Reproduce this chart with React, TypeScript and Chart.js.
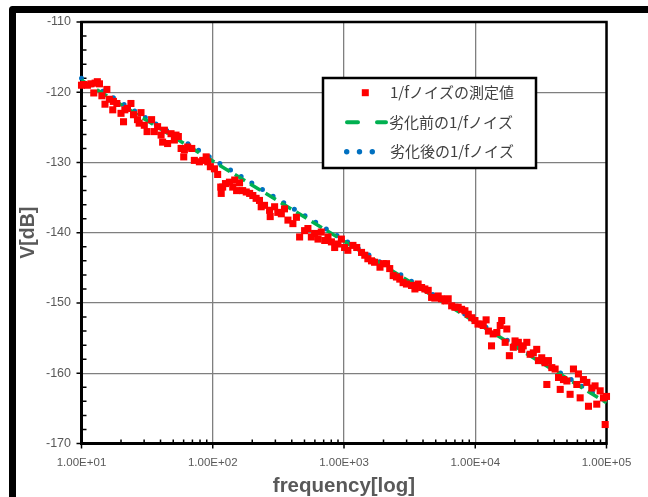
import React, { useEffect, useRef } from "react";
import { Chart, registerables } from "chart.js";

Chart.register(...registerables);

// ---- data ----
const measured: [number, number][] = [
  [10, -119.0], [10.4, -118.9], [11.1, -119.0], [11.8, -118.8], [12.7, -118.7],
  [13.2, -118.5], [13.7, -118.8], [12.4, -120.1], [14.3, -120.5], [15.6, -119.6],
  [16.3, -121.0], [15.1, -121.7], [17.5, -121.3], [18.6, -121.6], [17.3, -122.5],
  [20.0, -123.0], [21.4, -122.5], [23.8, -121.6], [22.4, -122.3], [20.9, -124.2],
  [24.9, -123.2], [26.7, -123.9], [28.4, -122.9], [27.5, -124.4], [30.1, -124.7],
  [34.2, -123.9], [31.6, -125.6], [35.9, -125.6], [38.0, -124.9], [40.4, -126.1],
  [42.8, -125.4], [41.5, -127.1], [45.3, -127.3], [48.1, -125.9], [52.5, -126.1],
  [51.0, -126.8], [54.7, -126.3], [57.4, -128.0], [60.8, -128.2], [64.4, -127.8],
  [69.2, -128.0], [60.1, -129.2], [72.4, -129.7], [79.1, -129.9], [83.9, -129.7],
  [89.1, -129.2], [95.9, -130.6], [91.6, -129.9], [103, -130.9], [109, -131.7],
  [115, -133.5],
  [116, -134.4], [119, -133.5], [125, -133.0], [134, -132.8], [142, -133.5],
  [147, -132.5], [152, -134.0], [160, -132.9], [169, -134.0], [180, -134.2],
  [191, -134.4], [202, -134.7], [214, -135.1], [227, -135.4], [234, -136.3],
  [248, -136.1], [271, -136.8], [274, -137.7], [296, -136.3], [313, -137.1],
  [333, -137.3], [352, -136.6], [374, -138.2], [408, -138.7], [434, -137.8],
  [459, -140.6], [501, -139.7], [531, -139.4], [564, -140.6], [597, -140.1],
  [634, -140.9], [671, -139.9], [713, -141.1], [755, -140.6], [802, -141.3],
  [849, -142.1], [899, -141.6], [955, -140.9], [1010, -142.1], [1070, -142.5],
  [1170, -141.8], [1250, -142.1], [1360, -142.8], [1440, -143.2], [1520, -143.7],
  [1620, -144.0], [1710, -144.2], [1880, -144.9], [1990, -144.4], [2110, -144.4],
  [2230, -145.1], [2370, -146.1], [2510, -146.3], [2660, -146.6], [2820, -147.1],
  [2990, -147.3], [3270, -147.5], [3470, -148.0], [3670, -147.3], [3900, -147.8],
  [4130, -148.0], [4380, -148.2], [4650, -149.2], [4920, -149.3], [5220, -149.0],
  [5530, -149.4], [5880, -149.7], [6220, -149.4], [6610, -150.4], [7000, -150.6],
  [7410, -150.6], [7870, -150.9], [8340, -151.1], [8850, -151.6], [9400, -152.1],
  [9950, -152.5], [10500, -153.0],
  [11200, -153.0], [12100, -152.4], [11500, -153.2], [12600, -154.0], [13700, -154.4],
  [13300, -156.1], [14600, -154.2], [15500, -153.2], [15900, -152.5], [16900, -155.6],
  [17400, -153.7], [18200, -157.5], [19500, -156.3], [20100, -155.4], [21300, -155.6],
  [22600, -156.6], [23200, -156.1], [24700, -155.6], [26200, -157.3], [27700, -157.1],
  [29400, -156.6], [30300, -158.2], [32100, -157.8], [34000, -158.5], [36100, -158.2],
  [38300, -159.2], [35100, -161.6], [40600, -159.4], [43100, -160.6], [44400, -162.3],
  [47000, -160.9], [49900, -161.1], [52800, -163.0], [56000, -159.4], [59400, -161.6],
  [61100, -160.1], [63000, -163.5], [66700, -160.9], [70800, -161.3], [72900, -164.7],
  [77300, -162.1], [81800, -161.8], [84300, -164.4], [89500, -162.5], [94800, -163.5],
  [100000, -163.3], [97700, -167.3],
];

const curveFreq = [10, 100, 1000, 10000, 100000];
const beforeDb = [-118.3, -129.8, -141.2, -152.7, -164.2];
const afterDb = [-118.0, -129.5, -141.0, -152.5, -164.0];

const xTickValues = [10, 100, 1000, 10000, 100000];
const xTickLabels = ["1.00E+01", "1.00E+02", "1.00E+03", "1.00E+04", "1.00E+05"];
const yTickValues = [-110, -120, -130, -140, -150, -160, -170];

const legendLabels = ["1/fノイズの測定値", "劣化前の1/fノイズ", "劣化後の1/fノイズ"];
const xTitle = "frequency[log]";
const yTitle = "V[dB]";

const RED = "#FF0000";
const GREEN = "#00B050";
const BLUE = "#0070C0";
const GRAY_TEXT = "#595959";
const GRID = "#7f7f7f";

const decorPlugin = {
  id: "decor",
  beforeDraw(chart: any) {
    const ctx = chart.ctx as CanvasRenderingContext2D;
    ctx.save();
    ctx.fillStyle = "#fff";
    ctx.fillRect(0, 0, chart.width, chart.height);
    // outer chart frame (continues beyond the view)
    ctx.strokeStyle = "#000";
    ctx.lineWidth = 7;
    ctx.lineJoin = "round";
    ctx.beginPath();
    ctx.moveTo(12.5, 700);
    ctx.lineTo(12.5, 9.5);
    ctx.lineTo(900, 9.5);
    ctx.stroke();
    ctx.restore();
  },
  beforeDatasetsDraw(chart: any) {
    const ctx = chart.ctx as CanvasRenderingContext2D;
    const a = chart.chartArea;
    const x = chart.scales.x;
    const y = chart.scales.y;
    ctx.save();
    ctx.strokeStyle = "#000";
    ctx.lineWidth = 2.5;
    ctx.strokeRect(a.left, a.top, a.right - a.left, a.bottom - a.top);
    ctx.lineWidth = 1.5;
    ctx.beginPath();
    for (const d of xTickValues) {
      const px = x.getPixelForValue(d);
      ctx.moveTo(px, a.bottom);
      ctx.lineTo(px, a.bottom + 5);
      if (d >= 100000) continue;
      for (let m = 2; m <= 9; m++) {
        const mx = x.getPixelForValue(d * m);
        ctx.moveTo(mx, a.bottom);
        ctx.lineTo(mx, a.bottom - 4);
      }
    }
    for (const v of yTickValues) {
      const py = y.getPixelForValue(v);
      ctx.moveTo(a.left - 5, py);
      ctx.lineTo(a.left, py);
      if (v <= -170) continue;
      for (let k = 2; k < 10; k += 2) {
        const my = y.getPixelForValue(v - k);
        ctx.moveTo(a.left, my);
        ctx.lineTo(a.left + 5, my);
      }
    }
    ctx.stroke();
    ctx.restore();
  },
  afterDatasetsDraw(chart: any) {
    const ctx = chart.ctx as CanvasRenderingContext2D;
    ctx.save();
    // legend box
    const bx = 323, by = 78, bw = 213, bh = 90;
    ctx.fillStyle = "#fff";
    ctx.fillRect(bx, by, bw, bh);
    ctx.strokeStyle = "#000";
    ctx.lineWidth = 2.5;
    ctx.strokeRect(bx, by, bw, bh);
    const rows = [92.7, 122.3, 151.7];
    // red square
    ctx.fillStyle = RED;
    ctx.fillRect(361.8, rows[0] - 3.5, 7, 7);
    // green dashes
    ctx.strokeStyle = GREEN;
    ctx.lineWidth = 4;
    ctx.lineCap = "round";
    ctx.beginPath();
    ctx.moveTo(347, rows[1]);
    ctx.lineTo(358, rows[1]);
    ctx.moveTo(377, rows[1]);
    ctx.lineTo(386, rows[1]);
    ctx.stroke();
    // blue dots
    ctx.fillStyle = BLUE;
    for (const cx of [346.7, 359.5, 372.3]) {
      ctx.beginPath();
      ctx.arc(cx, rows[2], 2.7, 0, Math.PI * 2);
      ctx.fill();
    }
    // texts
    ctx.fillStyle = "#404040";
    ctx.font = '15px "Noto Sans CJK JP", sans-serif';
    ctx.textBaseline = "middle";
    ctx.textAlign = "left";
    ctx.fillText(legendLabels[0], 390, rows[0]);
    ctx.fillText(legendLabels[1], 389, rows[1]);
    ctx.fillText(legendLabels[2], 390, rows[2]);
    ctx.restore();
  },
};

export default function App() {
  const canvasRef = useRef<HTMLCanvasElement | null>(null);

  useEffect(() => {
    const canvas = canvasRef.current;
    if (!canvas) return;
    const font = "'Liberation Sans', Arial, sans-serif";
    const chart = new Chart(canvas, {
      type: "line",
      data: {
        datasets: [
          {
            label: legendLabels[0],
            data: measured.map(([f, v]) => ({ x: f, y: v })),
            showLine: false,
            pointStyle: "rect",
            pointRadius: 5,
            pointBorderWidth: 0,
            pointBackgroundColor: RED,
            pointBorderColor: RED,
            backgroundColor: RED,
            borderColor: RED,
            clip: false,
          } as any,
          {
            label: legendLabels[1],
            data: curveFreq.map((f, i) => ({ x: f, y: beforeDb[i] })),
            borderColor: GREEN,
            borderWidth: 3.5,
            borderDash: [12, 6],
            pointRadius: 0,
            tension: 0,
            clip: false,
          } as any,
          {
            label: legendLabels[2],
            data: curveFreq.map((f, i) => ({ x: f, y: afterDb[i] })),
            borderColor: BLUE,
            borderWidth: 5,
            borderDash: [0, 12.5],
            borderCapStyle: "round",
            pointRadius: 0,
            tension: 0,
            clip: false,
          } as any,
        ],
      },
      options: {
        animation: false,
        responsive: false,
        devicePixelRatio: 1,
        layout: { padding: { left: 0, top: 22, right: 41.5, bottom: 0 } },
        plugins: {
          legend: { display: false },
          tooltip: { enabled: false },
        },
        scales: {
          x: {
            type: "logarithmic",
            min: 10,
            max: 100000,
            afterBuildTicks: (s: any) => {
              s.ticks = xTickValues.map((v) => ({ value: v, major: true }));
            },
            afterFit: (s: any) => {
              s.height = 53.5;
            },
            ticks: {
              autoSkip: false,
              maxRotation: 0,
              minRotation: 0,
              padding: 12,
              color: GRAY_TEXT,
              font: { family: font, size: 11.5 },
              callback: (_v: any, i: number) => xTickLabels[i],
            },
            grid: { color: GRID, lineWidth: 1.3, drawTicks: false },
            border: { display: true, color: "#000", width: 3 },
            title: {
              display: true,
              text: xTitle,
              color: GRAY_TEXT,
              font: { family: font, size: 20.5, weight: "bold", lineHeight: 1 },
              padding: { top: 0, bottom: 0 },
            },
          } as any,
          y: {
            type: "linear",
            min: -170,
            max: -110,
            afterBuildTicks: (s: any) => {
              s.ticks = yTickValues.map((v) => ({ value: v }));
            },
            afterFit: (s: any) => {
              s.width = 81.5;
            },
            ticks: {
              padding: 10.5,
              color: GRAY_TEXT,
              font: { family: font, size: 12.5 },
              callback: (v: any) => String(v),
            },
            grid: { color: GRID, lineWidth: 1.3, drawTicks: false },
            border: { display: true, color: "#000", width: 3 },
            title: {
              display: true,
              text: yTitle,
              color: GRAY_TEXT,
              font: { family: font, size: 19.5, weight: "bold", lineHeight: 1 },
              padding: { top: 18.5, bottom: 0 },
            },
          } as any,
        },
      },
      plugins: [decorPlugin],
    });
    return () => chart.destroy();
  }, []);

  return (
    <div
      style={{
        position: "fixed",
        left: 0,
        top: 0,
        width: 648,
        height: 497,
        overflow: "hidden",
        background: "#fff",
      }}
    >
      <canvas ref={canvasRef} width={648} height={497} style={{ display: "block" }} />
    </div>
  );
}
